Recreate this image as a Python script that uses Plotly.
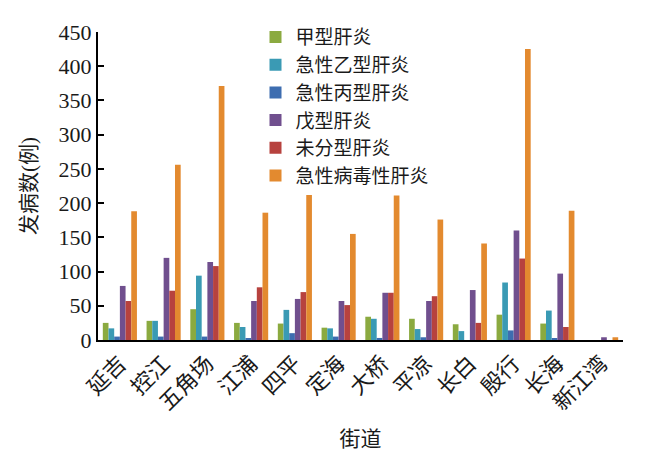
import plotly.graph_objects as go

streets = ["延吉", "控江", "五角场", "江浦", "四平", "定海", "大桥", "平凉", "长白", "殷行", "长海", "新江湾"]

hep_a = [25, 28, 45, 25, 24, 18, 34, 31, 23, 37, 24, 0]
acute_hep_b = [17, 28, 94, 19, 44, 17, 31, 16, 13, 84, 43, 0]
acute_hep_c = [5, 5, 5, 2, 10, 5, 3, 4, 0, 14, 2, 0]
hep_e = [79, 120, 114, 57, 60, 57, 69, 57, 73, 160, 97, 4]
unclassified = [57, 72, 108, 77, 70, 51, 69, 64, 25, 119, 19, 0]
acute_viral = [188, 256, 371, 186, 212, 155, 211, 176, 141, 425, 189, 4]

series = [
    ("甲型肝炎", hep_a, "#8BAA40"),
    ("急性乙型肝炎", acute_hep_b, "#3A9AB4"),
    ("急性丙型肝炎", acute_hep_c, "#3D6DB0"),
    ("戊型肝炎", hep_e, "#704F8E"),
    ("未分型肝炎", unclassified, "#B7423E"),
    ("急性病毒性肝炎", acute_viral, "#E38A2F"),
]

fig = go.Figure()
for name, vals, color in series:
    fig.add_trace(go.Bar(x=streets, y=vals, name=name,
                         marker=dict(color=color, line=dict(width=0))))

font_family = "Liberation Serif, Noto Sans CJK SC"

fig.update_layout(
    width=650, height=450,
    margin=dict(l=90, r=35, t=24, b=118, autoexpand=False),
    plot_bgcolor="white", paper_bgcolor="white",
    barmode="group", bargap=0.22, bargroupgap=0,
    font=dict(family=font_family, color="#1a1a1a", size=20),
    legend=dict(x=0.30, y=1.045, xanchor="left", yanchor="top",
                bgcolor="rgba(0,0,0,0)", font=dict(size=19),
                itemwidth=30, tracegroupgap=0),
    xaxis=dict(showline=True, linecolor="black", linewidth=2, ticks="",
               tickangle=-45, tickfont=dict(size=22),
               title=dict(text="街道", font=dict(size=21), standoff=17),
               showgrid=False, zeroline=False, automargin=False),
    yaxis=dict(range=[0, 450], dtick=50, showline=True, linecolor="black",
               linewidth=2, ticks="inside", ticklen=6, tickwidth=2,
               tickcolor="black", tickfont=dict(size=22),
               title=dict(text="发病数(例)", font=dict(size=21), standoff=16),
               showgrid=False, zeroline=False, automargin=False),
)

fig.write_html("out.html")
